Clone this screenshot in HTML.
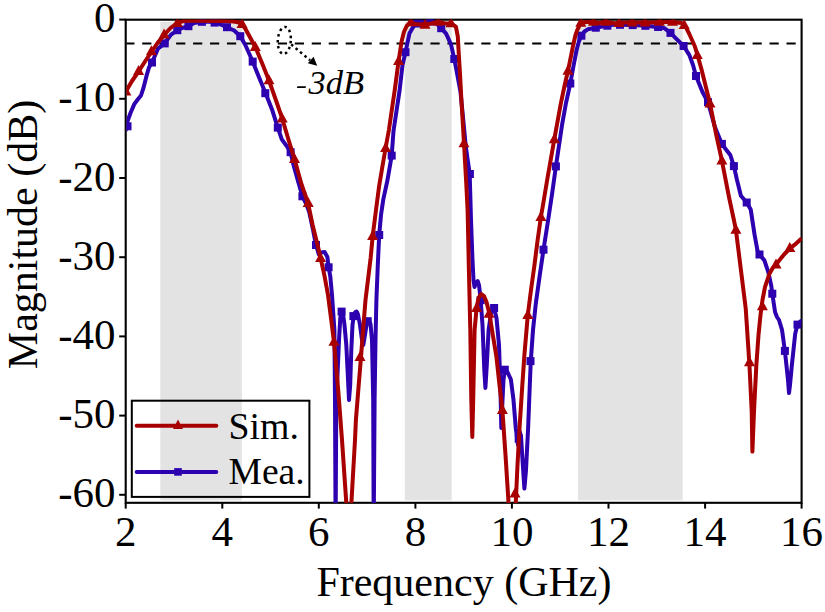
<!DOCTYPE html><html><head><meta charset="utf-8"><style>html,body{margin:0;padding:0;background:#fff;overflow:hidden}svg{display:block}text{font-family:"Liberation Serif",serif;fill:#000}</style></head><body>
<svg width="825" height="612" viewBox="0 0 825 612">
<rect x="160.3" y="21.9" width="81.5" height="478.4" fill="#e3e3e3"/>
<rect x="404.8" y="21.9" width="46.9" height="478.4" fill="#e3e3e3"/>
<rect x="578.0" y="21.9" width="104.7" height="478.4" fill="#e3e3e3"/>
<line x1="126.5" y1="43.4" x2="801" y2="43.4" stroke="#000" stroke-width="2" stroke-dasharray="9.2 7.755" stroke-dashoffset="1.25"/>
<rect x="125.7" y="19.7" width="675.9" height="483.1" fill="none" stroke="#000" stroke-width="2.1"/>
<g clip-path="url(#clip)">
<polyline points="125.9,130.0 127.5,121.3 130.6,112.7 134.3,104.1 137.9,99.2 141.0,95.5 143.4,88.2 146.5,75.9 149.0,67.4 152.0,62.5 158.2,48.3 164.7,43.4 171.0,34.6 177.3,30.4 182.0,28.0 188.4,26.2 194.2,23.0 201.0,21.8 210.0,21.8 217.0,23.0 227.0,27.2 234.2,30.5 240.3,36.2 245.2,44.7 248.5,52.0 252.7,61.6 258.6,76.3 265.5,93.0 272.4,110.6 277.8,127.6 281.8,139.4 287.6,147.3 290.6,152.2 293.5,164.9 298.4,182.5 302.4,196.3 306.3,204.1 309.2,212.0 313.1,230.0 316.0,245.0 318.9,254.7 321.5,252.5 324.6,251.9 327.4,257.0 328.6,267.3 330.3,276.4 332.0,295.0 334.4,330.0 335.0,400.0 335.6,530.0 336.3,400.0 337.5,375.0 339.0,340.0 340.3,318.0 341.6,312.0 343.0,314.0 344.5,325.0 346.3,345.0 347.8,375.0 349.0,400.0 350.2,385.0 351.3,350.0 352.5,325.0 353.8,316.0 355.3,312.0 356.5,311.5 358.0,314.5 360.0,325.0 362.0,340.0 363.3,345.0 365.0,335.0 366.5,325.0 368.0,321.0 369.5,321.5 370.5,324.0 372.0,340.0 373.2,400.0 373.7,530.0 374.6,400.0 375.5,340.0 376.4,300.0 377.8,265.0 379.2,235.0 381.0,215.0 383.3,199.4 387.5,180.0 391.7,155.6 393.5,131.0 399.6,90.4 402.5,65.0 405.5,52.2 409.4,33.6 413.3,26.7 418.6,22.5 425.5,21.8 431.4,21.3 436.0,23.0 441.2,28.2 446.1,33.6 451.0,44.4 454.3,59.0 456.8,72.0 460.5,92.0 462.3,110.0 465.7,145.8 469.7,174.0 471.0,220.0 472.5,260.0 473.5,280.0 474.5,287.0 476.0,283.0 477.7,281.0 479.0,285.0 480.5,298.0 482.5,325.0 484.3,370.0 485.4,388.0 486.8,365.0 488.6,330.0 491.0,313.0 494.0,308.0 496.5,318.0 499.0,345.0 500.5,390.0 501.3,428.0 502.5,400.0 503.5,380.0 504.8,370.0 507.0,371.0 510.9,379.5 513.5,400.0 515.8,428.5 518.0,445.0 519.5,431.0 521.0,436.0 522.5,460.0 524.4,488.6 526.0,470.0 528.1,428.5 530.0,380.0 530.8,361.0 533.0,330.0 535.7,304.6 539.5,277.0 543.5,249.7 548.8,215.7 552.2,193.0 555.9,166.4 562.3,123.3 566.0,103.0 570.3,83.5 573.5,66.0 576.6,50.0 579.0,41.0 581.6,35.7 584.5,31.5 587.8,29.3 595.8,27.7 602.2,26.5 613.8,24.6 630.0,25.0 642.9,25.6 652.6,26.5 658.1,27.0 664.6,28.3 670.5,32.9 676.4,38.8 683.6,46.0 689.4,55.1 693.0,65.0 696.0,76.0 702.5,92.0 708.0,102.2 715.0,127.2 721.9,143.9 726.0,149.5 730.3,155.0 733.9,166.1 737.0,180.0 740.9,195.7 746.7,202.5 750.7,209.4 754.6,234.9 757.5,250.6 759.5,254.5 764.4,260.4 768.3,272.2 771.3,285.9 772.3,293.7 775.1,312.2 777.0,317.0 779.0,320.0 782.0,329.8 784.9,350.9 788.0,380.0 789.0,393.0 790.0,385.0 791.8,365.8 795.2,333.7 797.5,324.6 801.0,321.0" fill="none" stroke="#2d00b0" stroke-width="4" stroke-linejoin="round" stroke-linecap="round"/>
<rect x="123.5" y="122.3" width="8" height="8" fill="#2d00b0"/>
<rect x="148.0" y="58.5" width="8" height="8" fill="#2d00b0"/>
<rect x="160.7" y="39.4" width="8" height="8" fill="#2d00b0"/>
<rect x="173.3" y="26.2" width="8" height="8" fill="#2d00b0"/>
<rect x="184.4" y="22.2" width="8" height="8" fill="#2d00b0"/>
<rect x="197.9" y="17.8" width="8" height="8" fill="#2d00b0"/>
<rect x="210.6" y="18.6" width="8" height="8" fill="#2d00b0"/>
<rect x="223.0" y="23.2" width="8" height="8" fill="#2d00b0"/>
<rect x="236.3" y="32.2" width="8" height="8" fill="#2d00b0"/>
<rect x="248.7" y="57.6" width="8" height="8" fill="#2d00b0"/>
<rect x="261.3" y="89.2" width="8" height="8" fill="#2d00b0"/>
<rect x="273.8" y="123.6" width="8" height="8" fill="#2d00b0"/>
<rect x="286.6" y="148.2" width="8" height="8" fill="#2d00b0"/>
<rect x="298.4" y="192.3" width="8" height="8" fill="#2d00b0"/>
<rect x="312.0" y="241.0" width="8" height="8" fill="#2d00b0"/>
<rect x="324.6" y="263.3" width="8" height="8" fill="#2d00b0"/>
<rect x="337.6" y="307.6" width="8" height="8" fill="#2d00b0"/>
<rect x="349.4" y="312.1" width="8" height="8" fill="#2d00b0"/>
<rect x="363.7" y="317.2" width="8" height="8" fill="#2d00b0"/>
<rect x="375.2" y="231.0" width="8" height="8" fill="#2d00b0"/>
<rect x="387.7" y="151.6" width="8" height="8" fill="#2d00b0"/>
<rect x="401.5" y="48.2" width="8" height="8" fill="#2d00b0"/>
<rect x="413.3" y="19.5" width="8" height="8" fill="#2d00b0"/>
<rect x="426.0" y="17.4" width="8" height="8" fill="#2d00b0"/>
<rect x="437.2" y="24.2" width="8" height="8" fill="#2d00b0"/>
<rect x="450.3" y="55.0" width="8" height="8" fill="#2d00b0"/>
<rect x="465.9" y="170.0" width="8" height="8" fill="#2d00b0"/>
<rect x="476.7" y="296.2" width="8" height="8" fill="#2d00b0"/>
<rect x="490.1" y="304.0" width="8" height="8" fill="#2d00b0"/>
<rect x="500.8" y="365.7" width="8" height="8" fill="#2d00b0"/>
<rect x="514.7" y="434.7" width="8" height="8" fill="#2d00b0"/>
<rect x="526.5" y="357.1" width="8" height="8" fill="#2d00b0"/>
<rect x="539.5" y="245.7" width="8" height="8" fill="#2d00b0"/>
<rect x="551.9" y="162.4" width="8" height="8" fill="#2d00b0"/>
<rect x="566.3" y="79.5" width="8" height="8" fill="#2d00b0"/>
<rect x="577.4" y="31.7" width="8" height="8" fill="#2d00b0"/>
<rect x="591.8" y="23.7" width="8" height="8" fill="#2d00b0"/>
<rect x="603.4" y="21.7" width="8" height="8" fill="#2d00b0"/>
<rect x="616.0" y="20.8" width="8" height="8" fill="#2d00b0"/>
<rect x="628.7" y="21.1" width="8" height="8" fill="#2d00b0"/>
<rect x="641.4" y="21.8" width="8" height="8" fill="#2d00b0"/>
<rect x="654.1" y="23.0" width="8" height="8" fill="#2d00b0"/>
<rect x="666.5" y="28.9" width="8" height="8" fill="#2d00b0"/>
<rect x="679.6" y="42.0" width="8" height="8" fill="#2d00b0"/>
<rect x="692.0" y="72.0" width="8" height="8" fill="#2d00b0"/>
<rect x="704.0" y="98.2" width="8" height="8" fill="#2d00b0"/>
<rect x="717.9" y="139.9" width="8" height="8" fill="#2d00b0"/>
<rect x="729.9" y="162.1" width="8" height="8" fill="#2d00b0"/>
<rect x="742.7" y="198.5" width="8" height="8" fill="#2d00b0"/>
<rect x="755.5" y="250.5" width="8" height="8" fill="#2d00b0"/>
<rect x="768.3" y="289.7" width="8" height="8" fill="#2d00b0"/>
<rect x="780.9" y="346.9" width="8" height="8" fill="#2d00b0"/>
<rect x="793.5" y="320.6" width="8" height="8" fill="#2d00b0"/>
<polyline points="125.9,91.5 132.0,81.0 138.6,71.5 145.0,61.5 151.4,52.0 157.5,43.0 164.1,35.0 170.5,28.0 177.3,23.0 183.3,21.0 190.0,20.8 200.0,20.8 215.0,21.0 225.0,21.0 234.0,21.5 239.0,22.5 242.1,24.5 245.5,29.0 248.8,35.0 252.0,41.0 255.5,47.5 262.0,63.0 269.0,80.5 275.5,99.0 282.2,118.5 288.6,140.0 294.5,159.0 301.4,184.0 308.0,203.0 312.6,225.0 318.3,247.9 320.6,258.0 324.6,276.4 328.0,295.0 331.5,322.0 334.0,342.0 338.2,390.0 342.0,440.0 346.3,502.8 348.8,560.0 351.4,502.8 355.0,440.0 355.9,420.0 358.3,390.0 361.0,357.0 363.1,330.0 365.5,300.0 370.7,257.5 372.7,236.0 376.0,210.0 379.2,185.6 382.5,166.0 385.6,148.0 388.9,130.0 391.5,112.0 394.7,90.4 398.6,61.0 401.6,41.4 403.9,32.0 406.9,25.7 410.8,22.3 416.7,24.3 425.0,24.5 431.4,23.5 438.2,21.8 445.1,23.5 451.0,23.5 455.9,26.7 457.8,36.5 458.6,51.2 459.9,72.0 461.4,100.0 464.0,143.3 466.2,182.5 467.6,210.0 468.9,270.0 470.3,330.0 471.3,400.0 472.3,437.0 473.2,400.0 474.6,330.0 476.6,308.0 478.5,298.0 481.3,294.0 484.0,296.0 486.5,302.0 489.5,314.0 492.0,330.0 496.3,355.8 499.5,385.0 502.4,410.0 505.5,455.0 508.5,502.0 512.0,540.0 515.8,502.0 517.5,465.0 519.5,428.5 522.0,390.0 524.4,355.0 527.8,315.0 531.0,290.0 534.4,265.4 537.5,241.0 540.9,217.0 543.0,205.0 547.5,178.0 554.3,139.3 560.7,104.2 564.5,86.0 568.0,70.8 571.0,56.0 573.5,43.7 575.5,35.0 577.6,29.3 580.8,23.0 586.6,22.0 593.4,21.7 599.2,23.0 606.0,21.7 613.8,23.3 625.4,22.5 638.0,22.5 652.6,22.5 659.4,22.0 672.5,22.0 681.6,23.0 684.2,25.0 686.8,29.0 689.4,34.2 692.0,40.0 694.7,46.0 697.3,54.5 701.2,68.2 706.4,89.1 710.0,103.6 716.4,135.6 721.9,160.6 728.9,196.7 733.9,220.0 735.9,229.8 740.8,269.0 745.7,308.2 749.5,365.8 751.7,411.5 752.4,451.6 754.0,411.5 756.3,365.8 758.5,335.0 760.5,315.0 762.5,300.0 765.0,287.0 769.3,274.1 773.0,267.5 777.2,263.0 784.0,254.5 790.9,247.6 794.8,244.7 801.0,239.0" fill="none" stroke="#a80000" stroke-width="4" stroke-linejoin="round" stroke-linecap="round"/>
<path d="M125.9,85.5 L131.4,95.5 L120.4,95.5Z" fill="#a80000"/>
<path d="M138.6,64.9 L144.1,74.9 L133.1,74.9Z" fill="#a80000"/>
<path d="M151.4,45.3 L156.9,55.3 L145.9,55.3Z" fill="#a80000"/>
<path d="M164.1,28.6 L169.6,38.6 L158.6,38.6Z" fill="#a80000"/>
<path d="M177.3,16.9 L182.8,26.9 L171.8,26.9Z" fill="#a80000"/>
<path d="M242.1,18.1 L247.6,28.1 L236.6,28.1Z" fill="#a80000"/>
<path d="M255.3,40.9 L260.8,50.9 L249.8,50.9Z" fill="#a80000"/>
<path d="M269.0,74.2 L274.5,84.2 L263.5,84.2Z" fill="#a80000"/>
<path d="M282.2,112.4 L287.7,122.4 L276.7,122.4Z" fill="#a80000"/>
<path d="M294.5,153.0 L300.0,163.0 L289.0,163.0Z" fill="#a80000"/>
<path d="M308.2,197.1 L313.7,207.1 L302.7,207.1Z" fill="#a80000"/>
<path d="M320.6,252.1 L326.1,262.1 L315.1,262.1Z" fill="#a80000"/>
<path d="M334.0,335.8 L339.5,345.8 L328.5,345.8Z" fill="#a80000"/>
<path d="M346.6,502.7 L352.1,512.7 L341.1,512.7Z" fill="#a80000"/>
<path d="M360.0,351.0 L365.5,361.0 L354.5,361.0Z" fill="#a80000"/>
<path d="M372.6,229.9 L378.1,239.9 L367.1,239.9Z" fill="#a80000"/>
<path d="M385.6,142.0 L391.1,152.0 L380.1,152.0Z" fill="#a80000"/>
<path d="M398.6,55.0 L404.1,65.0 L393.1,65.0Z" fill="#a80000"/>
<path d="M410.8,16.3 L416.3,26.3 L405.3,26.3Z" fill="#a80000"/>
<path d="M425.0,18.7 L430.5,28.7 L419.5,28.7Z" fill="#a80000"/>
<path d="M438.2,15.8 L443.7,25.8 L432.7,25.8Z" fill="#a80000"/>
<path d="M451.0,17.3 L456.5,27.3 L445.5,27.3Z" fill="#a80000"/>
<path d="M464.0,137.3 L469.5,147.3 L458.5,147.3Z" fill="#a80000"/>
<path d="M476.6,302.0 L482.1,312.0 L471.1,312.0Z" fill="#a80000"/>
<path d="M489.1,307.7 L494.6,317.7 L483.6,317.7Z" fill="#a80000"/>
<path d="M502.4,404.0 L507.9,414.0 L496.9,414.0Z" fill="#a80000"/>
<path d="M515.0,487.6 L520.5,497.6 L509.5,497.6Z" fill="#a80000"/>
<path d="M527.8,309.0 L533.3,319.0 L522.3,319.0Z" fill="#a80000"/>
<path d="M540.9,211.0 L546.4,221.0 L535.4,221.0Z" fill="#a80000"/>
<path d="M554.3,133.3 L559.8,143.3 L548.8,143.3Z" fill="#a80000"/>
<path d="M568.0,64.8 L573.5,74.8 L562.5,74.8Z" fill="#a80000"/>
<path d="M580.8,16.7 L586.3,26.7 L575.3,26.7Z" fill="#a80000"/>
<path d="M593.4,15.7 L598.9,25.7 L587.9,25.7Z" fill="#a80000"/>
<path d="M606.0,15.7 L611.5,25.7 L600.5,25.7Z" fill="#a80000"/>
<path d="M619.1,16.9 L624.6,26.9 L613.6,26.9Z" fill="#a80000"/>
<path d="M632.1,16.5 L637.6,26.5 L626.6,26.5Z" fill="#a80000"/>
<path d="M645.1,16.5 L650.6,26.5 L639.6,26.5Z" fill="#a80000"/>
<path d="M659.4,15.8 L664.9,25.8 L653.9,25.8Z" fill="#a80000"/>
<path d="M672.5,15.8 L678.0,25.8 L667.0,25.8Z" fill="#a80000"/>
<path d="M684.2,19.1 L689.7,29.1 L678.7,29.1Z" fill="#a80000"/>
<path d="M697.3,49.1 L702.8,59.1 L691.8,59.1Z" fill="#a80000"/>
<path d="M710.0,97.6 L715.5,107.6 L704.5,107.6Z" fill="#a80000"/>
<path d="M721.9,154.6 L727.4,164.6 L716.4,164.6Z" fill="#a80000"/>
<path d="M735.9,223.8 L741.4,233.8 L730.4,233.8Z" fill="#a80000"/>
<path d="M749.5,356.3 L755.0,366.3 L744.0,366.3Z" fill="#a80000"/>
<path d="M762.4,300.3 L767.9,310.3 L756.9,310.3Z" fill="#a80000"/>
<path d="M776.0,258.5 L781.5,268.5 L770.5,268.5Z" fill="#a80000"/>
<path d="M789.8,242.0 L795.3,252.0 L784.3,252.0Z" fill="#a80000"/>
</g>
<defs><clipPath id="clip"><rect x="126.6" y="19.4" width="675" height="483.6"/></clipPath></defs>
<line x1="119.2" y1="19.6" x2="125.7" y2="19.6" stroke="#000" stroke-width="2"/>
<text x="115.5" y="32.1" font-size="43" text-anchor="end">0</text>
<line x1="119.2" y1="98.8" x2="125.7" y2="98.8" stroke="#000" stroke-width="2"/>
<text x="115.5" y="111.3" font-size="43" text-anchor="end">-10</text>
<line x1="119.2" y1="178.0" x2="125.7" y2="178.0" stroke="#000" stroke-width="2"/>
<text x="115.5" y="190.5" font-size="43" text-anchor="end">-20</text>
<line x1="119.2" y1="257.2" x2="125.7" y2="257.2" stroke="#000" stroke-width="2"/>
<text x="115.5" y="269.7" font-size="43" text-anchor="end">-30</text>
<line x1="119.2" y1="336.4" x2="125.7" y2="336.4" stroke="#000" stroke-width="2"/>
<text x="115.5" y="348.9" font-size="43" text-anchor="end">-40</text>
<line x1="119.2" y1="415.6" x2="125.7" y2="415.6" stroke="#000" stroke-width="2"/>
<text x="115.5" y="428.1" font-size="43" text-anchor="end">-50</text>
<line x1="119.2" y1="494.8" x2="125.7" y2="494.8" stroke="#000" stroke-width="2"/>
<text x="115.5" y="507.3" font-size="43" text-anchor="end">-60</text>
<line x1="125.7" y1="502.8" x2="125.7" y2="508.6" stroke="#000" stroke-width="2"/>
<text x="125.7" y="546" font-size="43" text-anchor="middle">2</text>
<line x1="222.3" y1="502.8" x2="222.3" y2="508.6" stroke="#000" stroke-width="2"/>
<text x="222.3" y="546" font-size="43" text-anchor="middle">4</text>
<line x1="318.8" y1="502.8" x2="318.8" y2="508.6" stroke="#000" stroke-width="2"/>
<text x="318.8" y="546" font-size="43" text-anchor="middle">6</text>
<line x1="415.4" y1="502.8" x2="415.4" y2="508.6" stroke="#000" stroke-width="2"/>
<text x="415.4" y="546" font-size="43" text-anchor="middle">8</text>
<line x1="511.9" y1="502.8" x2="511.9" y2="508.6" stroke="#000" stroke-width="2"/>
<text x="511.9" y="546" font-size="43" text-anchor="middle">10</text>
<line x1="608.5" y1="502.8" x2="608.5" y2="508.6" stroke="#000" stroke-width="2"/>
<text x="608.5" y="546" font-size="43" text-anchor="middle">12</text>
<line x1="705.1" y1="502.8" x2="705.1" y2="508.6" stroke="#000" stroke-width="2"/>
<text x="705.1" y="546" font-size="43" text-anchor="middle">14</text>
<line x1="801.6" y1="502.8" x2="801.6" y2="508.6" stroke="#000" stroke-width="2"/>
<text x="801.6" y="546" font-size="43" text-anchor="middle">16</text>
<text x="463.9" y="596" font-size="42" text-anchor="middle">Frequency (GHz)</text>
<text transform="translate(37,234.5) rotate(-90)" font-size="42" text-anchor="middle">Magnitude (dB)</text>
<ellipse cx="284.3" cy="40.4" rx="6.5" ry="13.5" transform="rotate(4 284.3 40.4)" fill="none" stroke="#000" stroke-width="2.5" stroke-dasharray="2.5 3.4"/>
<line x1="291.2" y1="44.4" x2="310" y2="60.2" stroke="#000" stroke-width="2.5" stroke-dasharray="2.5 3.3"/>
<path d="M317.2,65.8 L307.8,63.2 L313.6,56.8Z" fill="#000"/>
<path d="M297.4,86.2 L306,86.2 L305.5,88.1 L296.9,88.1Z" fill="#000"/>
<text x="308.6" y="93.6" font-size="34.5" font-style="italic">3dB</text>
<rect x="131.8" y="400.7" width="177.6" height="96.2" fill="none" stroke="#000" stroke-width="2"/>
<line x1="136.7" y1="425.8" x2="216.3" y2="425.8" stroke="#a80000" stroke-width="4" stroke-linecap="round"/>
<path d="M178,419.5 L183,429 L173,429Z" fill="#a80000"/>
<line x1="136.7" y1="471.9" x2="216.3" y2="471.9" stroke="#2d00b0" stroke-width="4" stroke-linecap="round"/>
<rect x="174.2" y="468.1" width="7.6" height="7.6" fill="#2d00b0"/>
<text x="228.5" y="438.8" font-size="37.8">Sim.</text>
<text x="228.5" y="484" font-size="37.6">Mea.</text>
</svg></body></html>
